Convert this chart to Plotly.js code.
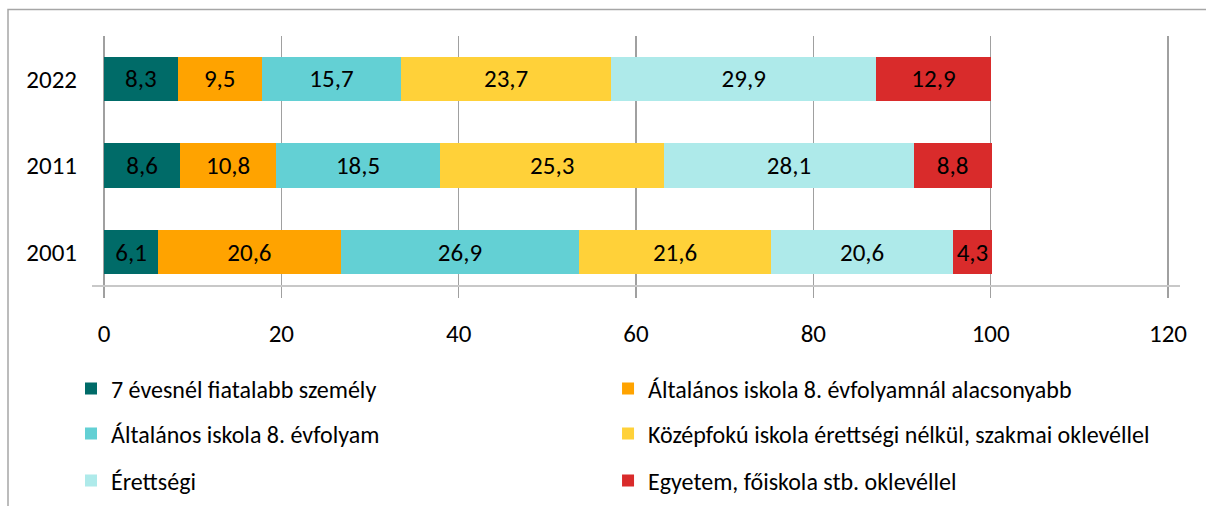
<!DOCTYPE html>
<html><head><meta charset="utf-8">
<script src="https://cdn.plot.ly/plotly-3.0.1.min.js"></script>
<style>html,body{margin:0;padding:0;background:#fff;}#chart{width:1206px;height:506px;}</style>
</head><body><div id="chart"></div>
<script>
const years = ['2001', '2011', '2022'];
const seriesNames = [
  '7 évesnél fiatalabb személy',
  'Általános iskola 8. évfolyamnál alacsonyabb',
  'Általános iskola 8. évfolyam',
  'Középfokú iskola érettségi nélkül, szakmai oklevéllel',
  'Érettségi',
  'Egyetem, főiskola stb. oklevéllel'
];
const fiatalabb = [6.1, 8.6, 8.3];
const alacsonyabb = [20.6, 10.8, 9.5];
const nyolcadik = [26.9, 18.5, 15.7];
const szakmai = [21.6, 25.3, 23.7];
const erettsegi = [20.6, 28.1, 29.9];
const egyetem = [4.3, 8.8, 12.9];
const xTicks = [0, 20, 40, 60, 80, 100, 120];

const values = [fiatalabb, alacsonyabb, nyolcadik, szakmai, erettsegi, egyetem];
const colors = ['#006B68', '#FFA300', '#63D0D4', '#FFD139', '#AEEAEA', '#D92B2B'];
const FONT = 'Carlito, Lato, "Open Sans", sans-serif';
const legendIds = ['legend', 'legend2', 'legend3', 'legend4', 'legend5', 'legend6'];
const legX = [-0.0193, 0.4743];
const legY = [-0.4177, -0.5984, -0.7871];

const traces = values.map((v, i) => ({
  type: 'bar', orientation: 'h', name: seriesNames[i],
  y: years, x: v,
  marker: {color: colors[i], line: {width: 0}},
  texttemplate: '%{x:.1f}', textposition: 'inside', insidetextanchor: 'middle',
  textangle: 0, constraintext: 'none',
  textfont: {color: '#000', size: 25, family: FONT},
  legend: legendIds[i], hoverinfo: 'skip'
}));

const layout = {
  width: 1206, height: 506,
  margin: {l: 92, r: 26, t: 36, b: 221, autoexpand: false},
  paper_bgcolor: '#fff', plot_bgcolor: '#fff',
  barmode: 'stack', bargap: 0.49,
  separators: ', ',
  font: {family: FONT, color: '#000'},
  showlegend: true,
  xaxis: {range: [-1.353, 121.353], tickvals: xTicks, ticktext: xTicks.map(String),
    showgrid: true, gridcolor: '#A0A0A0', gridwidth: 1.6, zeroline: false,
    showline: true, linecolor: '#C8C8C8', linewidth: 1.5,
    ticks: 'outside', ticklen: 11, tickcolor: '#A0A0A0', tickwidth: 1.6,
    ticklabelstandoff: 14, tickfont: {size: 25, family: FONT, color: '#000'},
    automargin: false, fixedrange: true},
  yaxis: {type: 'category', range: [-0.3815, 2.497], showgrid: false, zeroline: false,
    showline: false, ticks: '', ticklabelstandoff: 14,
    tickfont: {size: 25, family: FONT, color: '#000'}, automargin: false, fixedrange: true},
  shapes: [{type: 'rect', xref: 'paper', yref: 'paper',
    x0: (8 - 92) / 1088, x1: (1230 - 92) / 1088, y0: (285 - 530) / 249, y1: (285 - 9.5) / 249,
    line: {color: '#A6A6A6', width: 1.5}, fillcolor: 'rgba(0,0,0,0)', layer: 'below'}]
};
legendIds.forEach((id, i) => {
  layout[id] = {orientation: 'v', font: {size: 24, family: FONT, color: '#000'},
    bgcolor: 'rgba(0,0,0,0)', xanchor: 'left', yanchor: 'middle',
    x: legX[i % 2], y: legY[Math.floor(i / 2)]};
});

Plotly.newPlot('chart', traces, layout, {displayModeBar: false, staticPlot: true});
</script></body></html>
